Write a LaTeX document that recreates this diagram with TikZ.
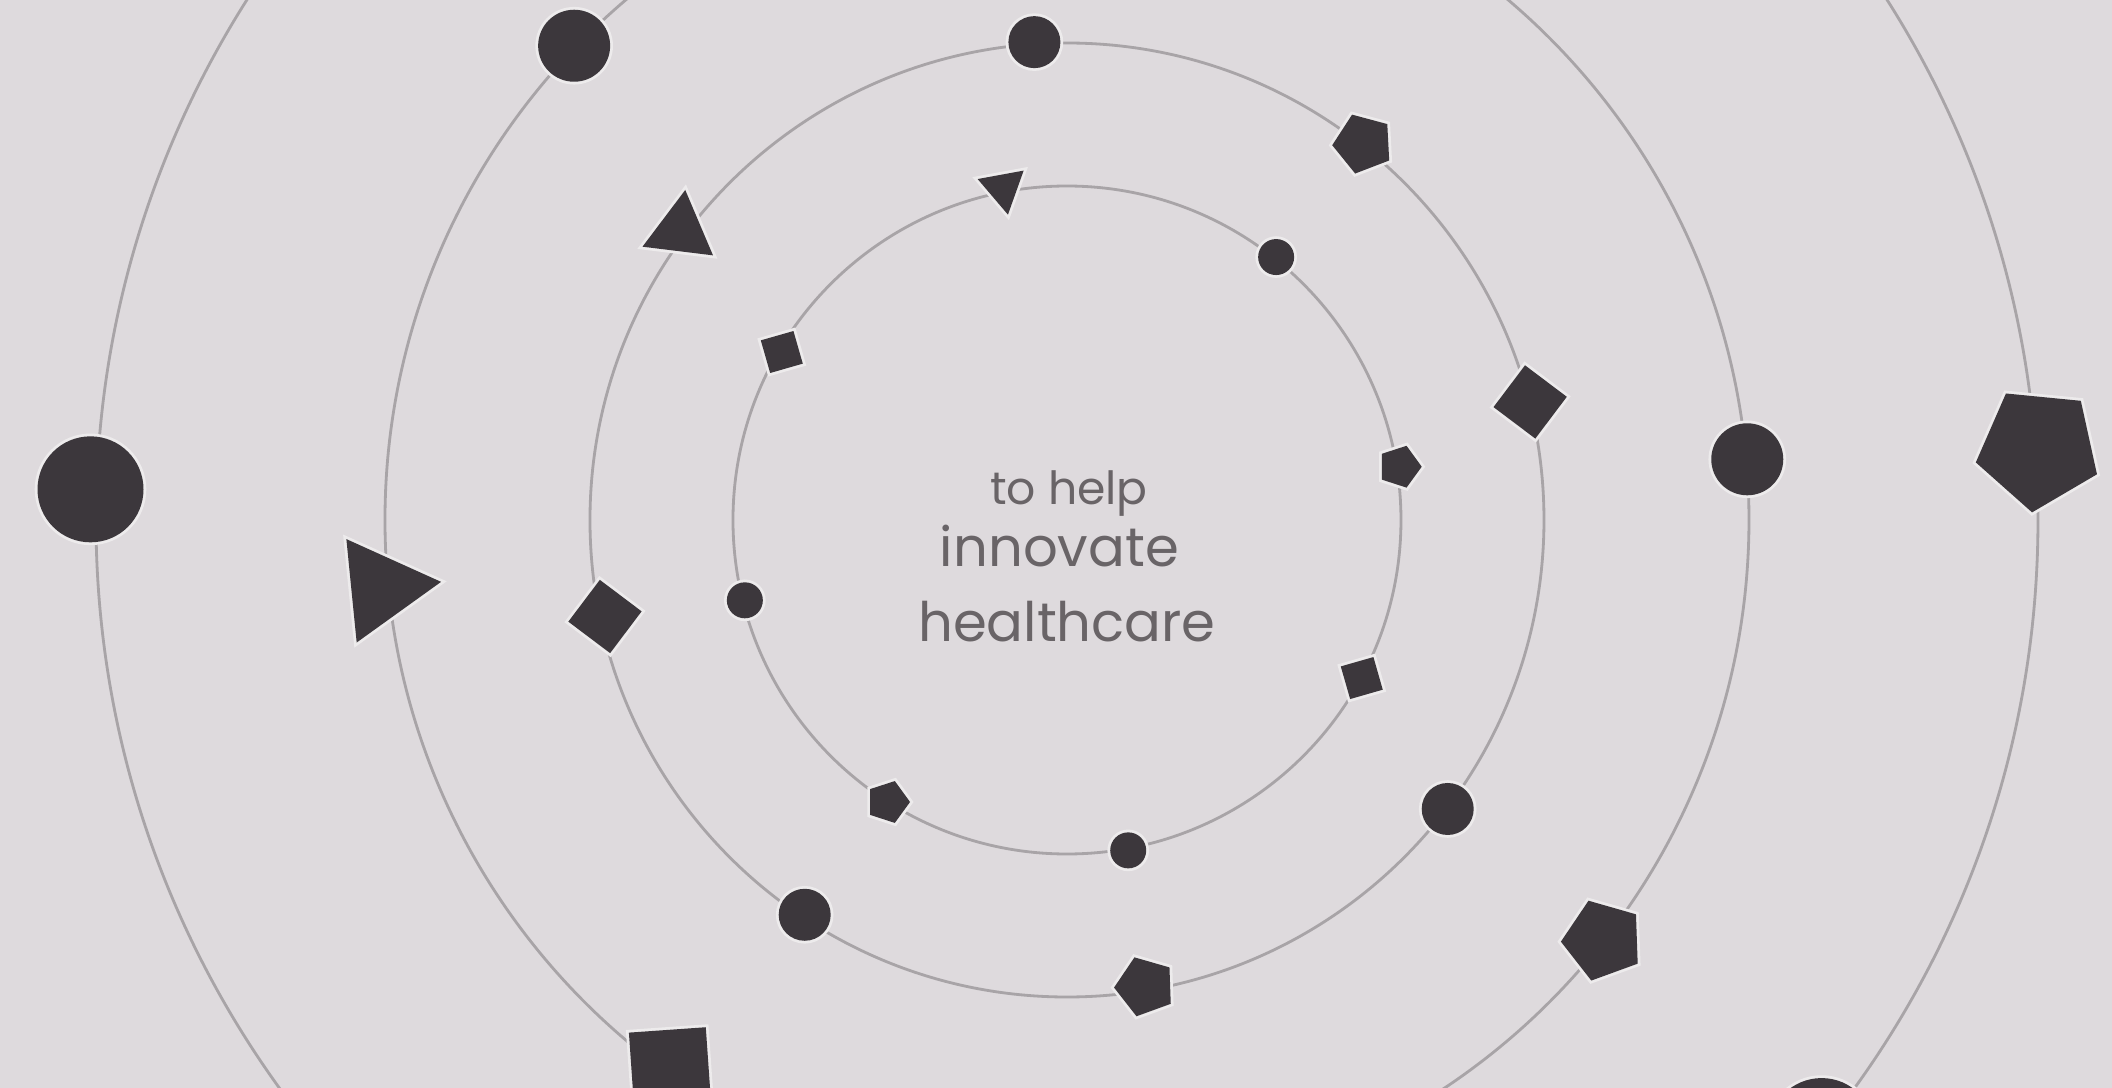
\documentclass[tikz,border=0pt]{standalone}
\usepackage{fontspec}
\setmainfont{Poppins}
\usetikzlibrary{shapes.geometric}
\definecolor{paper}{RGB}{222,218,221}
\definecolor{ink}{RGB}{60,55,60}
\definecolor{orbitgray}{RGB}{168,164,167}
\definecolor{textgray}{RGB}{105,100,103}
\tikzset{
  orbit/.style={draw=orbitgray, line width=0.8pt},
  blob/.style={fill=ink, inner sep=0pt, outer sep=0pt, preaction={draw=paper!55!white, line width=1.6pt}},
  spot/.style={blob, circle, minimum size=#1},
  tri/.style={blob, regular polygon, regular polygon sides=3, minimum size=#1},
  sq/.style={blob, regular polygon, regular polygon sides=4, minimum size=#1},
  pent/.style={blob, regular polygon, regular polygon sides=5, minimum size=#1},
  word/.style={text=textgray, inner sep=0pt, anchor=base}
}

\begin{document}
\begin{tikzpicture}
\fill [paper] (-10.67,-5.68) rectangle (10.45,5.20);
\useasboundingbox (-10.67,-5.68) rectangle (10.45,5.20);
\draw [orbit] (0,0) circle (3.34);
\draw [orbit] (0,0) circle (4.77);
\draw [orbit] (0,0) circle (6.82);
\draw [orbit] (0,0) circle (9.71);
\node [tri=0.54cm, rotate=-169.6] (a1) at (100.9:3.38) {};
\node [spot=0.36cm] (a2) at (51.5:3.36) {};
\node [pent=0.44cm, rotate=-18] (a3) at (9.1:3.37) {};
\node [sq=0.48cm, rotate=16] (a4) at (-28.2:3.345) {};
\node [spot=0.36cm] (a5) at (-79.5:3.36) {};
\node [pent=0.44cm, rotate=-18] (a6) at (237.6:3.34) {};
\node [spot=0.36cm] (a7) at (194:3.32) {};
\node [sq=0.48cm, rotate=16] (a8) at (149.5:3.31) {};
\node [spot=0.52cm] (b1) at (93.9:4.79) {};
\node [pent=0.62cm, rotate=21] (b2) at (51.8:4.79) {};
\node [sq=0.74cm, rotate=53] (b3) at (14.3:4.78) {};
\node [spot=0.52cm] (b4) at (-37.2:4.78) {};
\node [pent=0.62cm, rotate=20] (b5) at (-80.5:4.73) {};
\node [spot=0.52cm] (b6) at (236.4:4.74) {};
\node [sq=0.74cm, rotate=53] (b7) at (191.8:4.72) {};
\node [tri=0.82cm, rotate=-7] (b8) at (143.2:4.83) {};
\node [spot=0.72cm] (c1) at (136.1:6.84) {};
\node [tri=1.2cm, rotate=-84.3] (c2) at (185.65:6.89) {};
\node [sq=1.09cm, rotate=4] (c3) at (234.1:6.77) {};
\node [pent=0.84cm, rotate=20] (c4) at (-38.1:6.81) {};
\node [spot=0.72cm] (c5) at (5.1:6.83) {};
\node [spot=1.06cm] (d1) at (178.2:9.77) {};
\node [pent=1.28cm, rotate=30.4] (d2) at (4.2:9.74) {};
\node [spot=1.06cm] (d3) at (-39:9.71) {};
\node [word, font=\fontsize{13}{15}\selectfont] (tohelp) at (0.02,0.15) {to help};
\node [word, font=\fontsize{15.5}{18}\selectfont] (innovate) at (-0.075,-0.47) {innovate};
\node [word, font=\fontsize{15.5}{18}\selectfont] (healthcare) at (0,-1.22) {healthcare};
\end{tikzpicture}
\end{document}
